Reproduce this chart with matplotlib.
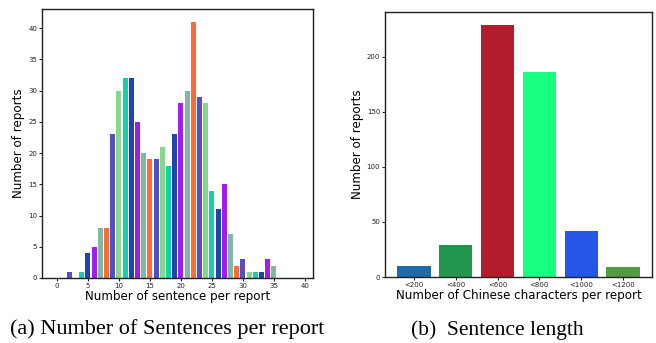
import matplotlib
matplotlib.use("Agg")
import matplotlib.pyplot as plt

# Left: number of sentences per report
sent_counts = list(range(2, 36))
sent_reports = [1, 0, 1, 4, 5, 8, 8, 23, 30, 32, 32, 25, 20, 19, 19, 21, 18, 23,
                28, 30, 41, 29, 28, 14, 11, 15, 7, 2, 3, 1, 1, 1, 3, 2]
cycle_colors = ["#5450C4", "#88D88A", "#12D1AB", "#1E45B0", "#A21CF0", "#7FB9A5", "#FF6B35"]
sent_xticks = [0, 5, 10, 15, 20, 25, 30, 35, 40]

# Right: sentence length
len_labels = ["<200", "<400", "<600", "<800", "<1000", "<1200"]
len_reports = [10, 29, 229, 186, 42, 9]
len_colors = ["#1F6AA8", "#22964F", "#B51C2A", "#19FF7F", "#2457E8", "#559A45"]

fig = plt.figure(figsize=(6.56, 3.43), dpi=100)
W, H = 656, 343
def rect(l, t, r, b):
    return [l / W, 1 - b / H, (r - l) / W, (b - t) / H]

ax1 = fig.add_axes(rect(42, 9, 313, 278))
colors1 = [cycle_colors[i % 7] for i in range(len(sent_counts))]
ax1.bar(sent_counts, sent_reports, width=0.8, color=colors1)
ax1.set_xlim(-2.4, 41.3)
ax1.set_xticks(sent_xticks)
ax1.set_yticks(range(0, 45, 5))
ax1.set_xlabel("Number of sentence per report", fontsize=8.6, labelpad=1)
ax1.set_ylabel("Number of reports", fontsize=8.6, labelpad=2)

ax2 = fig.add_axes(rect(385, 12, 652, 277))
ax2.bar(range(len(len_labels)), len_reports, width=0.8, color=len_colors)
ax2.set_xticks(range(len(len_labels)))
ax2.set_xticklabels(len_labels)
ax2.set_yticks([0, 50, 100, 150, 200])
ax2.set_xlabel("Number of Chinese characters per report", fontsize=8.6, labelpad=1)
ax2.set_ylabel("Number of reports", fontsize=8.6, labelpad=2)

for ax in (ax1, ax2):
    ax.tick_params(labelsize=5, length=2, width=0.8, pad=1.5, colors="#222222")
    for s in ax.spines.values():
        s.set_linewidth(1.0)
        s.set_color("#222222")

fig.text(167 / W, 1 - 329 / H, "(a) Number of Sentences per report", ha="center", va="center",
         fontsize=16, family="Liberation Serif")
fig.text(497 / W, 1 - 330 / H, "(b)  Sentence length", ha="center", va="center",
         fontsize=15.5, family="Liberation Serif")

fig.savefig("out.png", dpi=100)
